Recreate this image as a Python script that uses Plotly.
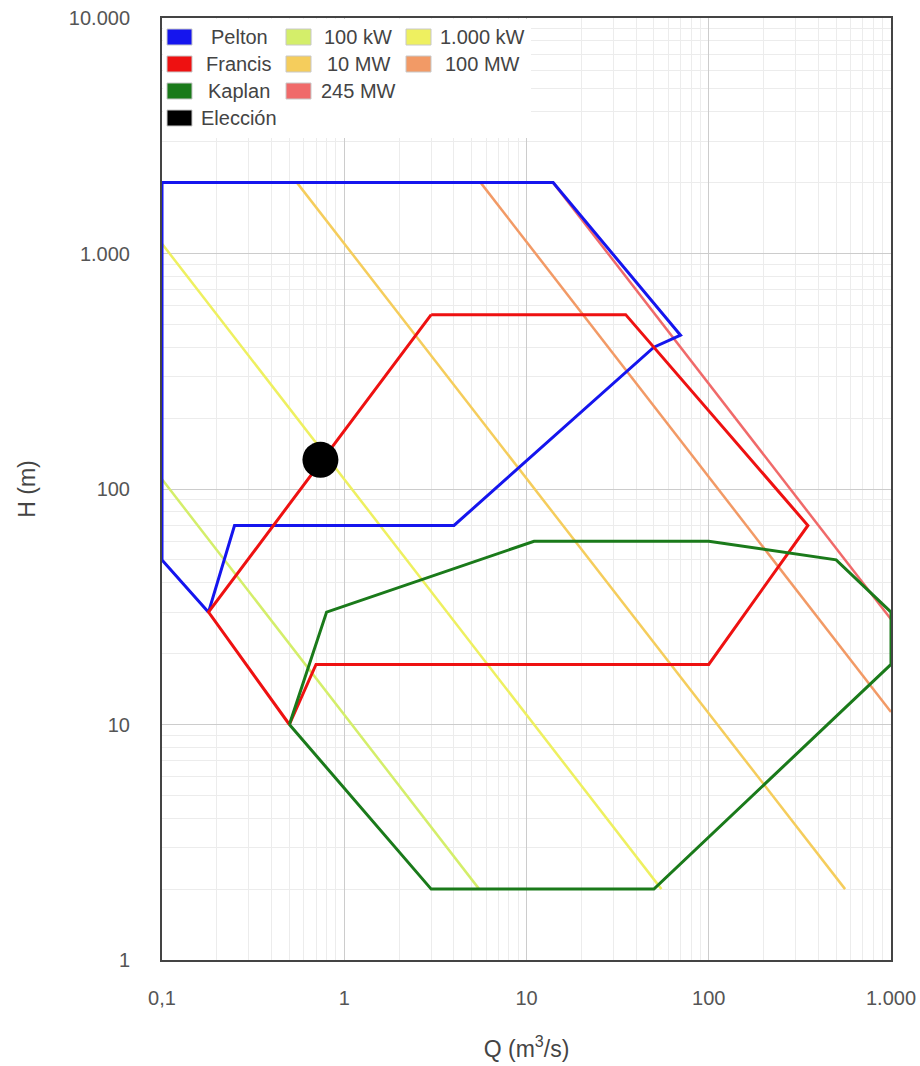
import plotly.graph_objects as go

# ---- data ----
pelton_q = [0.1, 14, 70, 50, 4, 0.25, 0.18, 0.1, 0.1]
pelton_h = [2000, 2000, 450, 400, 70, 70, 30, 50, 2000]

francis_q = [3, 35, 350, 100, 0.7, 0.5, 0.18, 3]
francis_h = [550, 550, 70, 18, 18, 10, 30, 550]

kaplan_q = [0.5, 0.8, 11, 100, 500, 1000, 1000, 50, 3, 0.5]
kaplan_h = [10, 30, 60, 60, 50, 30, 18, 2, 2, 10]

power_names = ["100 kW", "1.000 kW", "10 MW", "100 MW", "245 MW"]
power_q = [[0.1, 5.5], [0.1, 55], [0.55, 560], [5.6, 1000], [14, 1000]]
power_h = [[110, 2], [1100, 2], [2000, 2], [2000, 11.3], [2000, 28]]
power_colors = ["#d4ee6a", "#eef060", "#f5cd5c", "#f29a66", "#f06a6a"]

choice_q = [0.74]
choice_h = [133]

x_tickvals = [0.1, 1, 10, 100, 1000]
x_ticktext = ["0,1", "1", "10", "100", "1.000"]
y_tickvals = [1, 10, 100, 1000, 10000]
y_ticktext = ["1", "10", "100", "1.000", "10.000"]

FONT = "Liberation Sans, Arial, sans-serif"

fig = go.Figure()

for name, q, h, c in zip(power_names, power_q, power_h, power_colors):
    fig.add_trace(go.Scatter(x=q, y=h, mode="lines", name=name,
                             line=dict(color=c, width=2.5), showlegend=False))

fig.add_trace(go.Scatter(x=pelton_q, y=pelton_h, mode="lines", name="Pelton",
                         line=dict(color="#1515ee", width=3), showlegend=False))
fig.add_trace(go.Scatter(x=francis_q, y=francis_h, mode="lines", name="Francis",
                         line=dict(color="#ee1111", width=3), showlegend=False))
fig.add_trace(go.Scatter(x=kaplan_q, y=kaplan_h, mode="lines", name="Kaplan",
                         line=dict(color="#1a7a1a", width=3), showlegend=False))
fig.add_trace(go.Scatter(x=choice_q, y=choice_h, mode="markers", name="Elección",
                         marker=dict(color="black", size=36), showlegend=False))

# ---- manual legend (pixel layout: plot area x 162..891, y 18..960) ----
L, R, T, B = 162, 891, 18, 960
def px(x):
    return (x - L) / (R - L)
def py(y):
    return (B - y) / (B - T)

shapes = [dict(type="rect", xref="paper", yref="paper", x0=px(163), x1=px(531),
               y0=py(138), y1=py(19), fillcolor="white", line=dict(width=0), layer="above")]
legend_items = [
    ("Pelton", "#1515ee", 0, 0), ("Francis", "#ee1111", 0, 1),
    ("Kaplan", "#1a7a1a", 0, 2), ("Elección", "#000000", 0, 3),
    ("100 kW", power_colors[0], 1, 0), ("10 MW", power_colors[2], 1, 1),
    ("245 MW", power_colors[4], 1, 2),
    ("1.000 kW", power_colors[1], 2, 0), ("100 MW", power_colors[3], 2, 1),
]
col_sq = [167, 286, 406]
col_txt = [239, 358, 482]
row_y = [37, 64, 91, 118]
annotations = []
for label, color, col, row in legend_items:
    x0 = col_sq[col]
    yc = row_y[row]
    shapes.append(dict(type="rect", xref="paper", yref="paper",
                       x0=px(x0), x1=px(x0 + 25), y0=py(yc + 8), y1=py(yc - 8),
                       fillcolor=color, line=dict(color="#c8c8c8", width=1), layer="above"))
    annotations.append(dict(xref="paper", yref="paper", x=px(col_txt[col]), y=py(yc),
                            text=label, showarrow=False, xanchor="center", yanchor="middle",
                            font=dict(family=FONT, size=20, color="#444444")))

fig.update_layout(
    width=920, height=1066,
    margin=dict(l=L, r=920 - R, t=T, b=1066 - B),
    paper_bgcolor="white", plot_bgcolor="white",
    font=dict(family=FONT, color="#444444"),
    shapes=shapes, annotations=annotations,
    xaxis=dict(type="log", range=[-1, 3], tickvals=x_tickvals, ticktext=x_ticktext,
               automargin=False,
               showgrid=True, gridcolor="#cccccc", gridwidth=1,
               minor=dict(showgrid=True, gridcolor="#ececec", dtick="D1"),
               showline=True, linecolor="#444444", linewidth=2, mirror=True,
               ticks="", ticklabelstandoff=19, tickfont=dict(size=20, color="#555555"),
               title=dict(text="Q (m<sup>3</sup>/s)", font=dict(size=23, color="#444444"),
                          standoff=33),
               zeroline=False),
    yaxis=dict(type="log", range=[0, 4], tickvals=y_tickvals, ticktext=y_ticktext,
               automargin=False,
               showgrid=True, gridcolor="#cccccc", gridwidth=1,
               minor=dict(showgrid=True, gridcolor="#ececec", dtick="D1"),
               showline=True, linecolor="#444444", linewidth=2, mirror=True,
               ticks="", ticklabelstandoff=26, tickfont=dict(size=20, color="#555555"),
               title=dict(text="H (m)", font=dict(size=23, color="#444444"), standoff=27),
               zeroline=False),
)

fig.write_html(
    "out.html",
    config={"displayModeBar": False},
    post_script=(
        "document.body.style.margin='0';"
        "document.body.style.overflow='hidden';"
        "document.documentElement.style.overflow='hidden';"
    ),
)
